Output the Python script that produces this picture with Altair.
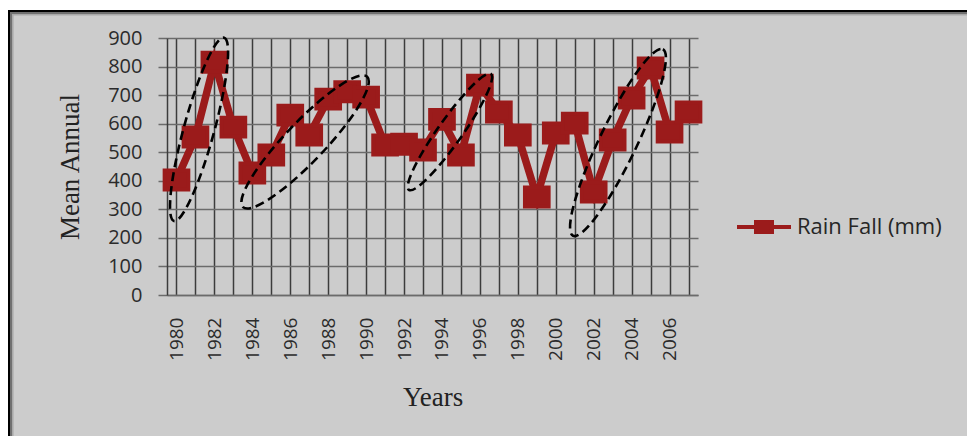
import altair as alt
import pandas as pd

# ---- data ----
years = list(range(1980, 2008))
rain = [403, 553, 815, 588, 427, 490, 630, 560, 686, 712, 693, 525, 528, 508,
        615, 490, 735, 641, 560, 343, 567, 602, 361, 543, 690, 795, 571, 641]
series_name = "Rain Fall (mm)"
y_ticks = list(range(0, 1000, 100))

# dashed annotation ellipses (centre in data units)
ell_year = [1981.19, 1986.78, 1994.42, 2003.28]
ell_value = [580, 536, 571, 534]
ell_len = [190, 180, 142, 207]
ell_ratio = [0.16, 0.22, 0.17, 0.18]
ell_angle = [105.3, 133.6, 125.3, 115.7]

RED = "#9b1b1b"
GRID_H = "#6b6b6b"
GRID_V = "#3c3c3c"


def ellipse_path(r):
    k = 0.5523
    return (f"M -1 0 C -1 {-k*r:.4f} {-k} {-r:.4f} 0 {-r:.4f} "
            f"C {k} {-r:.4f} 1 {-k*r:.4f} 1 0 "
            f"C 1 {k*r:.4f} {k} {r:.4f} 0 {r:.4f} "
            f"C {-k} {r:.4f} -1 {k*r:.4f} -1 0 Z")


df = pd.DataFrame({"year": years, "value": rain, "series": [series_name] * len(years)})
ell_df = pd.DataFrame({
    "year": ell_year,
    "value": ell_value,
    "path": [ellipse_path(r) for r in ell_ratio],
    "size": [l * l for l in ell_len],
    "angle": ell_angle,
})

W, H = 531, 257
PAD = {"left": 167, "top": 38, "right": 967 - 167 - W, "bottom": 436 - 38 - H}

x_enc = alt.X(
    "year:Q",
    scale=alt.Scale(domain=[1979.5, 2007.5], nice=False, zero=False),
    axis=alt.Axis(
        values=years, grid=True, gridColor=GRID_V, gridWidth=1.5,
        ticks=False, tickSize=0, domainColor=GRID_H, domainWidth=1.5,
        labelAngle=-90, labelAlign="right", labelBaseline="middle",
        labelExpr="datum.value % 2 == 0 ? '' + datum.value : ''",
        labelPadding=22, labelOverlap=False, labelFlush=False,
        labelFont="Open Sans", labelFontSize=19, labelColor="#2b2b2b",
        title="Years", titleFont="Liberation Serif", titleFontSize=27,
        titleFontWeight="normal", titleColor="#222222",
        titleY=110, titleBaseline="alphabetic",
    ),
)
y_enc = alt.Y(
    "value:Q",
    scale=alt.Scale(domain=[0, 900], nice=False),
    axis=alt.Axis(
        values=y_ticks, grid=True, gridColor=GRID_H, gridWidth=1.5,
        tickSize=9, tickColor=GRID_H, tickWidth=1.5,
        domainColor=GRID_V, domainWidth=1.5,
        labelFont="Open Sans", labelFontSize=20, labelColor="#2b2b2b",
        labelPadding=16,
        title="Mean Annual", titleFont="Liberation Serif", titleFontSize=27,
        titleFontWeight="normal", titleColor="#222222",
        titleX=-89, titleY=H / 2, titleAngle=270, titleBaseline="alphabetic",
        titleAlign="center",
    ),
)

# ---- decorative frame around the figure ----
one = alt.Chart(pd.DataFrame({"k": [0]}))
white_top = one.mark_rect(color="white").encode(
    x=alt.value(-170), x2=alt.value(820), y=alt.value(-40), y2=alt.value(-27))
white_left = one.mark_rect(color="white").encode(
    x=alt.value(-170), x2=alt.value(-158), y=alt.value(-40), y2=alt.value(420))
frame1 = one.mark_rect(fill="transparent", stroke="black", strokeWidth=2).encode(
    x=alt.value(-158), x2=alt.value(840), y=alt.value(-27), y2=alt.value(460))
frame2 = one.mark_rect(fill="transparent", stroke="#707070", strokeWidth=2).encode(
    x=alt.value(-156), x2=alt.value(838), y=alt.value(-25), y2=alt.value(458))
frame3 = one.mark_rect(fill="transparent", stroke="#a8a8a8", strokeWidth=1.5).encode(
    x=alt.value(-154.2), x2=alt.value(836), y=alt.value(-23.3), y2=alt.value(456))

# ---- data marks ----
base = alt.Chart(df)
line = base.mark_line(color=RED, strokeWidth=7.5).encode(x=x_enc, y=y_enc)

legend_path = ("M -1 0 L 1 0 M -0.296 -0.185 L 0.296 -0.185 L 0.296 0.185 "
               "L -0.296 0.185 Z")
leg = alt.Legend(
    title=None, orient="none", legendX=568, legendY=160, padding=0,
    symbolType=legend_path, symbolSize=54 * 54, symbolStrokeWidth=4,
    labelFont="Open Sans", labelFontSize=22, labelColor="#262626",
    labelOffset=4,
)
rect_path = "M -1 -0.8 L 1 -0.8 L 1 0.8 L -1 0.8 Z"
points = base.mark_point(filled=True, opacity=1, shape=rect_path, size=560,
                         strokeWidth=4).encode(
    x=x_enc, y=y_enc,
    fill=alt.Fill("series:N", scale=alt.Scale(range=[RED]), legend=leg),
    stroke=alt.Stroke("series:N", scale=alt.Scale(range=[RED]), legend=leg),
)

ellipses = alt.Chart(ell_df).mark_point(
    filled=False, stroke="black", strokeWidth=2.6, strokeDash=[9, 5], opacity=1
).encode(
    x=x_enc, y=y_enc,
    shape=alt.Shape("path:N", scale=None, legend=None),
    size=alt.Size("size:Q", scale=None, legend=None),
    angle=alt.Angle("angle:Q", scale=None),
)

chart = alt.layer(
    white_top, white_left, frame1, frame2, frame3, line, points, ellipses
).properties(
    width=W, height=H,
    autosize=alt.AutoSizeParams(type="none"),
    padding=PAD,
    background="#cccccc",
).configure_view(strokeWidth=0)

chart.save("out.html", embed_options={"renderer": "svg", "actions": False})
